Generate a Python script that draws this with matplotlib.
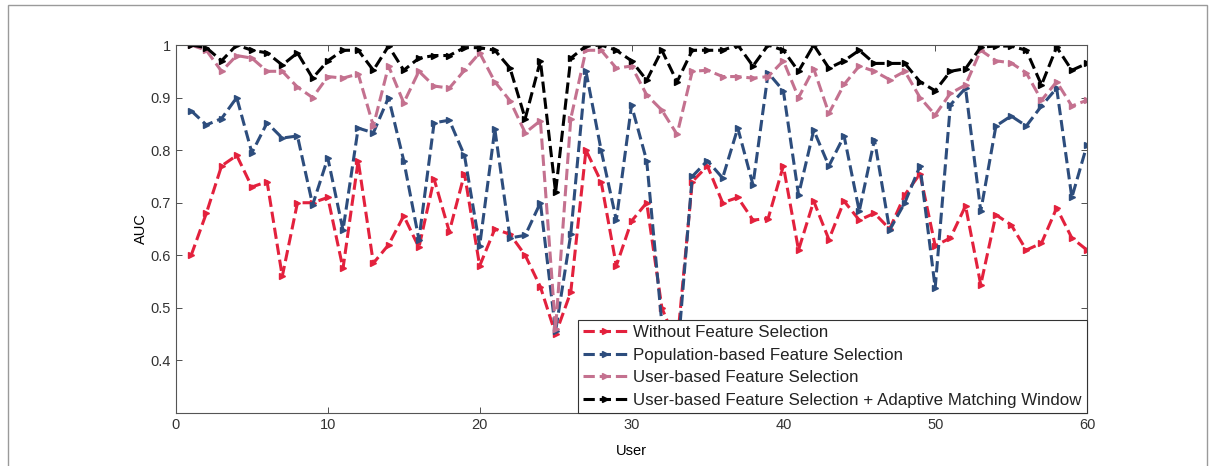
import numpy as np
import matplotlib
matplotlib.use("Agg")
import matplotlib.pyplot as plt
from matplotlib.patches import Rectangle

plt.rcParams["font.family"] = ["Liberation Sans", "DejaVu Sans"]

users = np.arange(1, 61)

# AUC per user
auc_without = [0.60, 0.68, 0.77, 0.79, 0.73, 0.74, 0.56, 0.70, 0.70, 0.71,
               0.575, 0.78, 0.585, 0.62, 0.675, 0.615, 0.745, 0.645, 0.755, 0.58,
               0.65, 0.64, 0.60, 0.54, 0.45, 0.53, 0.80, 0.74, 0.58, 0.665,
               0.70, 0.50, 0.43, 0.74, 0.77, 0.70, 0.71, 0.667, 0.67, 0.77,
               0.61, 0.703, 0.63, 0.703, 0.667, 0.68, 0.65, 0.715, 0.755, 0.618,
               0.633, 0.694, 0.544, 0.677, 0.658, 0.61, 0.623, 0.69, 0.633, 0.61]
auc_population = [0.875, 0.848, 0.86, 0.90, 0.795, 0.852, 0.823, 0.827, 0.696, 0.785,
                  0.648, 0.842, 0.833, 0.90, 0.78, 0.63, 0.852, 0.857, 0.79, 0.618,
                  0.84, 0.633, 0.638, 0.70, 0.456, 0.64, 0.95, 0.80, 0.667, 0.885,
                  0.78, 0.47, 0.40, 0.75, 0.78, 0.747, 0.842, 0.734, 0.947, 0.913,
                  0.715, 0.838, 0.77, 0.827, 0.684, 0.82, 0.648, 0.70, 0.77, 0.538,
                  0.886, 0.918, 0.684, 0.846, 0.865, 0.846, 0.884, 0.918, 0.71, 0.81]
auc_user = [1.0, 0.99, 0.95, 0.98, 0.975, 0.95, 0.95, 0.92, 0.90, 0.94,
            0.937, 0.945, 0.846, 0.96, 0.89, 0.95, 0.922, 0.918, 0.952, 0.985,
            0.93, 0.894, 0.833, 0.856, 0.46, 0.86, 0.99, 0.99, 0.956, 0.96,
            0.905, 0.876, 0.83, 0.95, 0.952, 0.94, 0.94, 0.937, 0.94, 0.97,
            0.90, 0.955, 0.87, 0.925, 0.96, 0.95, 0.934, 0.95, 0.90, 0.867,
            0.908, 0.924, 0.99, 0.97, 0.966, 0.947, 0.895, 0.93, 0.884, 0.895]
auc_adaptive = [1.0, 0.995, 0.97, 1.0, 0.99, 0.985, 0.962, 0.985, 0.937, 0.97,
                0.99, 0.99, 0.952, 0.998, 0.952, 0.975, 0.98, 0.98, 0.995, 0.995,
                0.99, 0.956, 0.86, 0.97, 0.72, 0.975, 0.998, 1.0, 0.99, 0.97,
                0.933, 0.99, 0.93, 0.99, 0.99, 0.99, 1.0, 0.96, 1.0, 0.99,
                0.95, 1.0, 0.956, 0.97, 0.99, 0.965, 0.965, 0.965, 0.93, 0.913,
                0.95, 0.955, 0.996, 0.998, 0.998, 0.99, 0.924, 0.996, 0.952, 0.965]

series_labels = ["Without Feature Selection",
                 "Population-based Feature Selection",
                 "User-based Feature Selection",
                 "User-based Feature Selection + Adaptive Matching Window"]
series_colors = ["#e3213d", "#2d4d7d", "#c4718f", "#000000"]

fig = plt.figure(figsize=(12.17, 4.66), dpi=100)
ax = fig.add_axes([0.1446, 0.1137, 0.7486, 0.7897])

# thin frame around the whole figure
fig.patches.append(Rectangle((8 / 1217, -0.05), 1199 / 1217, 1.05 - 5 / 466,
                             transform=fig.transFigure, fill=False,
                             edgecolor="#9a9a9a", linewidth=1.0))

for vals, lab, col in zip([auc_without, auc_population, auc_user, auc_adaptive],
                          series_labels, series_colors):
    ax.plot(users, vals, linestyle="--", color=col, linewidth=2.2,
            marker=">", markersize=5, label=lab)

ax.set_xlim(0, 60)
ax.set_ylim(0.3, 1.0)
ax.set_xticks(range(0, 61, 10))
ax.set_yticks([0.4, 0.5, 0.6, 0.7, 0.8, 0.9, 1.0])
ax.set_yticklabels(["0.4", "0.5", "0.6", "0.7", "0.8", "0.9", "1"])
ax.tick_params(direction="in", top=True, right=True, labelsize=10.5,
               length=4, width=0.6, colors="#333333")
for sp in ax.spines.values():
    sp.set_linewidth(0.8)
    sp.set_color("#555555")

ax.set_xlabel("User", fontsize=10.5, labelpad=9)
ax.set_ylabel("AUC", fontsize=10.5, labelpad=2)

leg = ax.legend(loc="lower right", fontsize=12.2, frameon=True, fancybox=False,
                borderaxespad=0, handlelength=2.7, handletextpad=0.3,
                labelspacing=0.45, borderpad=0.3)
leg.get_frame().set_edgecolor("#333333")
leg.get_frame().set_linewidth(0.8)
leg.get_frame().set_alpha(1.0)
for t in leg.get_texts():
    t.set_color("#222222")

fig.savefig("out.png", dpi=100)
